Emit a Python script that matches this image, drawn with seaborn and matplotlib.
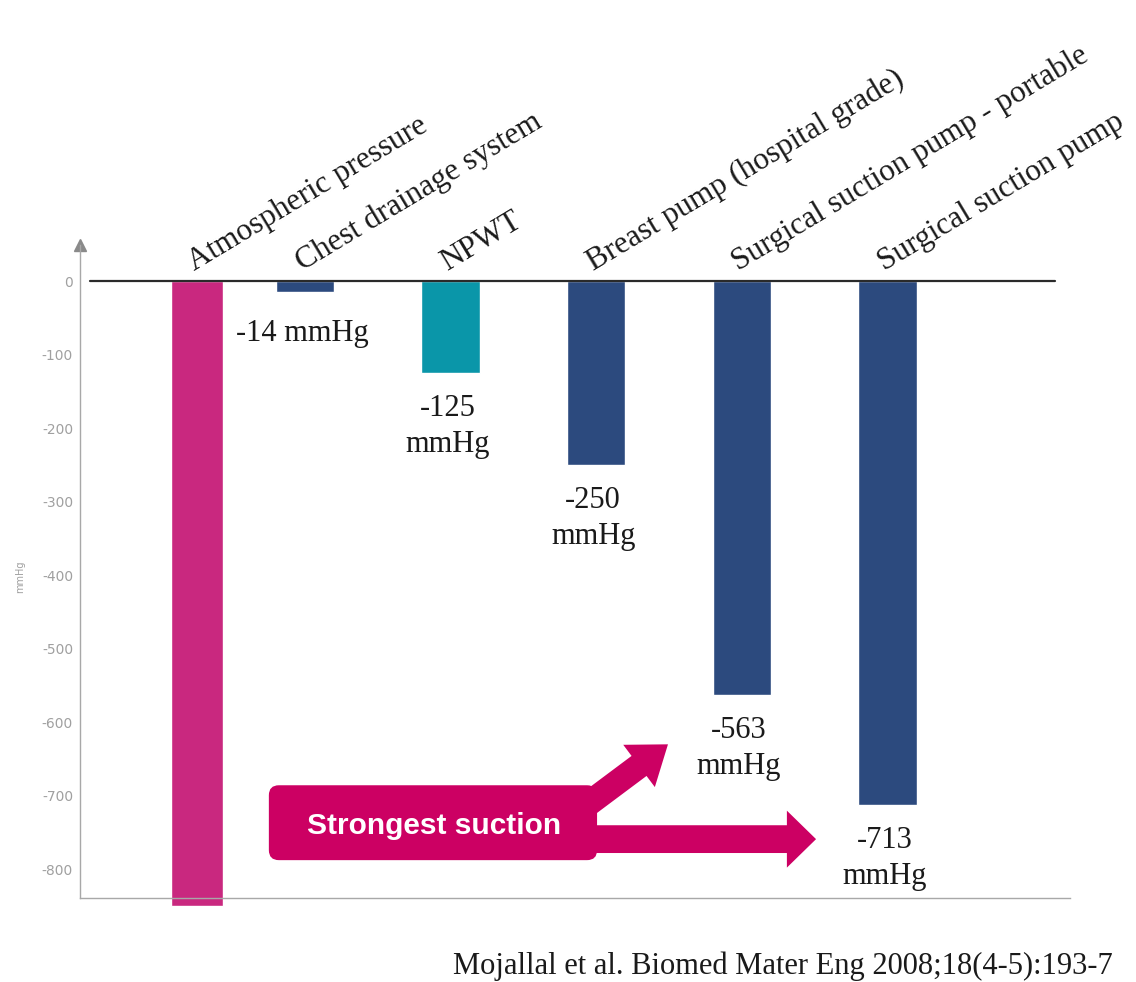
import matplotlib
matplotlib.use("Agg")
import matplotlib.pyplot as plt
import seaborn as sns
from matplotlib.patches import FancyBboxPatch, FancyArrowPatch, ArrowStyle

# ---- data ----
categories = [
    "Atmospheric pressure",
    "Chest drainage system",
    "NPWT",
    "Breast pump (hospital grade)",
    "Surgical suction pump - portable",
    "Surgical suction pump",
]
pressures = [-850, -14, -125, -250, -563, -713]
labelled = [False, True, True, True, True, True]
y_ticks = [0, -100, -200, -300, -400, -500, -600, -700, -800]
citation = "Mojallal et al. Biomed Mater Eng 2008;18(4-5):193-7"
callout_text = "Strongest suction"

# ---- styling ----
bar_colors = ["#C9287F", "#2C4A7E", "#0A96A9", "#2C4A7E", "#2C4A7E", "#2C4A7E"]
callout_color = "#CC0063"
serif = ["Liberation Serif", "DejaVu Serif"]

sns.set_theme(style="white")
plt.rcParams["font.family"] = ["DejaVu Sans"]

W, H = 1136, 982
fig = plt.figure(figsize=(W / 100, H / 100), dpi=100)
ax = fig.add_axes([80 / W, 1 - 898 / H, 990 / W, (898 - 245) / H])

sns.barplot(x=categories, y=pressures, hue=categories, palette=bar_colors,
            legend=False, width=0.4, saturation=1, ax=ax)

ax.set_xlim(-0.545, 6.254)
ax.set_ylim(-838.9, 49.6)

# the first bar sits a little closer to its neighbour and is slightly narrower
bars = list(ax.patches)
lead = bars[0]
lead.set_width(0.357)
lead.set_x(lead.get_x() + 0.02 + 0.26)
lead.set_clip_on(False)

# zero line
ax.axhline(0, xmin=0.0101, xmax=0.985, color="#2a2a2a", lw=1.6, zorder=5)

# axes styling
for side in ("top", "right"):
    ax.spines[side].set_visible(False)
for side in ("left", "bottom"):
    ax.spines[side].set_color("#a8a8a8")
    ax.spines[side].set_linewidth(1.0)
ax.plot([0], [1], marker="^", markersize=8, color="#8a8a8a",
        transform=ax.transAxes, clip_on=False)
ax.set_xticks([])
ax.set_xlabel("")
ax.set_yticks(y_ticks)
ax.set_yticklabels([str(t) for t in y_ticks])
ax.tick_params(axis="y", length=0, pad=5, labelsize=10, labelcolor="#a0a0a0")
ax.set_ylabel("mmHg", fontsize=7, color="#a0a0a0")
ax.yaxis.set_label_coords((25 - 80) / 990, (898 - 577) / 653)

# category labels and value labels
for bar, name, val, show in zip(bars, categories, pressures, labelled):
    cx = bar.get_x() + bar.get_width() / 2
    ax.annotate(name, xy=(cx, 0), xytext=(-3, 10), textcoords="offset pixels",
                rotation=31, rotation_mode="anchor", ha="left", va="baseline",
                fontsize=22.5, family=serif, color="#1a1a1a", annotation_clip=False)
    if show:
        if abs(val) < 100:
            txt, dy = f"{val} mmHg", -27
        else:
            txt, dy = f"{val}\nmmHg", -21
        ax.annotate(txt, xy=(cx, val), xytext=(-3, dy), textcoords="offset pixels",
                    ha="center", va="top", fontsize=22, family=serif,
                    color="#1a1a1a", linespacing=1.3, annotation_clip=False)

# "Strongest suction" callout with two arrows
fig.canvas.draw()
to_px = ax.transData.transform
(px0, py0), (px1, py1) = to_px([(0, 0), (1, 1)])
ux, uy = abs(px1 - px0), abs(py1 - py0)

bx0, bx1 = 0.752, 3.006
by0, by1 = -787.4, -685.5
r = 10 / ux
box = FancyBboxPatch((bx0, by0), bx1 - bx0, by1 - by0,
                     boxstyle=f"round,pad=0,rounding_size={r}",
                     mutation_aspect=(10 / uy) / r,
                     fc=callout_color, ec="none", transform=ax.transData, zorder=6)
ax.add_patch(box)
ax.text(bx0 + (434 - 269) / ux, (by0 + by1) / 2 - 4, callout_text,
        ha="center", va="center", fontsize=21.5, fontweight="bold",
        family=["Liberation Sans", "DejaVu Sans"], color="white", zorder=8)

straight = FancyArrowPatch((2.90, -758.8), (4.510, -758.8),
                           arrowstyle=ArrowStyle.Simple(head_length=21, head_width=41, tail_width=20),
                           mutation_scale=1, shrinkA=0, shrinkB=0,
                           fc=callout_color, ec="none", transform=ax.transData, zorder=6)
ax.add_patch(straight)
slanted = FancyArrowPatch((2.85, -725), (3.493, -629.8),
                          arrowstyle=ArrowStyle.Simple(head_length=26, head_width=38, tail_width=18),
                          mutation_scale=1, shrinkA=0, shrinkB=0,
                          fc=callout_color, ec="none", transform=ax.transData, zorder=6)
ax.add_patch(slanted)

# source line
fig.text(453 / W, (982 - 974) / H, citation, ha="left", va="baseline",
         fontsize=22, family=serif, color="#1a1a1a")

fig.savefig("out.png", dpi=100)
